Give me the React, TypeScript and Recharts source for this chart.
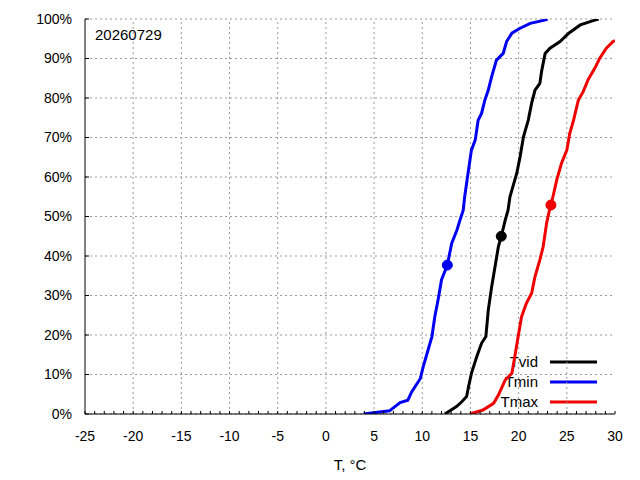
import React from 'react'
import {
  ComposedChart, Line, XAxis, YAxis, CartesianGrid, ReferenceLine, ReferenceDot,
} from 'recharts'

// cumulative share (%) of stations vs temperature
const TMIN = [
  { t: 3.9, p: 0 }, { t: 6.6, p: 0.8 }, { t: 7.7, p: 2.9 }, { t: 8.5, p: 3.5 },
  { t: 8.9, p: 5.6 }, { t: 9.8, p: 9 }, { t: 10.1, p: 12 }, { t: 10.6, p: 16.2 },
  { t: 11.0, p: 19.6 }, { t: 11.3, p: 24.6 }, { t: 11.7, p: 29.7 }, { t: 12.0, p: 34 },
  { t: 12.6, p: 37.7 }, { t: 13.05, p: 43.2 }, { t: 13.6, p: 46.6 }, { t: 13.9, p: 49 },
  { t: 14.25, p: 51.6 }, { t: 14.4, p: 55 }, { t: 14.8, p: 61.8 }, { t: 15.1, p: 66.8 },
  { t: 15.5, p: 69.4 }, { t: 15.8, p: 74.4 }, { t: 16.15, p: 76.1 }, { t: 16.5, p: 79.5 },
  { t: 16.85, p: 82 }, { t: 17.2, p: 85.4 }, { t: 17.7, p: 89.6 }, { t: 18.4, p: 91.3 },
  { t: 18.75, p: 94.3 }, { t: 19.3, p: 96.4 }, { t: 20.1, p: 97.6 }, { t: 21.2, p: 98.9 },
  { t: 22.7, p: 99.7 }, { t: 23.0, p: 100 },
]

const TVID = [
  { t: 12.35, p: 0 }, { t: 13.55, p: 1.9 }, { t: 14.1, p: 3.1 }, { t: 14.6, p: 4.4 },
  { t: 14.8, p: 6.9 }, { t: 15.1, p: 10.3 }, { t: 15.65, p: 14.5 }, { t: 16.15, p: 17.9 },
  { t: 16.6, p: 19.6 }, { t: 16.85, p: 26.3 }, { t: 17.2, p: 32.2 }, { t: 17.55, p: 37.3 },
  { t: 17.9, p: 42.4 }, { t: 18.2, p: 45 }, { t: 18.6, p: 49 }, { t: 18.9, p: 51.6 },
  { t: 19.1, p: 55 }, { t: 19.8, p: 60.9 }, { t: 20.15, p: 65.1 }, { t: 20.5, p: 70.2 },
  { t: 21.0, p: 74.4 }, { t: 21.35, p: 78.7 }, { t: 21.7, p: 82 }, { t: 22.2, p: 83.7 },
  { t: 22.4, p: 87 }, { t: 22.75, p: 91.3 }, { t: 23.25, p: 92.6 }, { t: 24.3, p: 94.3 },
  { t: 25.2, p: 96.4 }, { t: 26.4, p: 98.5 }, { t: 27.9, p: 99.7 }, { t: 28.3, p: 100 },
]

const TMAX = [
  { t: 14.95, p: 0 }, { t: 16.3, p: 1 }, { t: 17.4, p: 2.7 }, { t: 17.9, p: 4.8 },
  { t: 18.6, p: 8.6 }, { t: 19.3, p: 10.3 }, { t: 19.6, p: 14.5 }, { t: 19.95, p: 19.6 },
  { t: 20.3, p: 24.6 }, { t: 20.8, p: 28 }, { t: 21.35, p: 30.6 }, { t: 21.7, p: 34.8 },
  { t: 22.2, p: 39 }, { t: 22.55, p: 42.4 }, { t: 22.9, p: 48.3 }, { t: 23.2, p: 51.6 },
  { t: 23.4, p: 53.3 }, { t: 23.95, p: 59.2 }, { t: 24.45, p: 63.5 }, { t: 25.0, p: 66.8 },
  { t: 25.3, p: 71 }, { t: 25.7, p: 74.4 }, { t: 26.2, p: 79.5 }, { t: 26.7, p: 81.6 },
  { t: 27.2, p: 84.6 }, { t: 27.9, p: 87.5 }, { t: 28.4, p: 90 }, { t: 29.1, p: 92.6 },
  { t: 29.8, p: 94.3 }, { t: 30, p: 94.5 },
]

// today's values, marked with dots
const MARKERS = [
  { t: 18.2, p: 45, color: '#000000' },
  { t: 12.6, p: 37.7, color: '#0000f0' },
  { t: 23.35, p: 52.9, color: '#f00000' },
]

const SERIES = [
  { name: 'Tvid', data: TVID, color: '#000000' },
  { name: 'Tmin', data: TMIN, color: '#0000f0' },
  { name: 'Tmax', data: TMAX, color: '#f00000' },
]

const X_MAJOR = [-25, -20, -15, -10, -5, 0, 5, 10, 15, 20, 25, 30]
const X_GRID = [-20, -15, -10, -5, 0, 5, 10, 15, 20, 25]
const X_MINOR = [
  -25, -24, -23, -22, -21, -20, -19, -18, -17, -16, -15, -14, -13, -12, -11, -10,
  -9, -8, -7, -6, -5, -4, -3, -2, -1, 0, 1, 2, 3, 4, 5, 6, 7, 8, 9, 10, 11, 12,
  13, 14, 15, 16, 17, 18, 19, 20, 21, 22, 23, 24, 25, 26, 27, 28, 29, 30,
]
const Y_TICKS = [0, 10, 20, 30, 40, 50, 60, 70, 80, 90, 100]

const DATE_LABEL = '20260729'
const X_TITLE = 'T, °C'

const FONT = '"Liberation Sans", Arial, sans-serif'
const tickStyle = { fill: '#000', fontSize: 14, fontFamily: FONT }
const GRID_COLOR = '#9a9a9a'

export default function App() {
  return (
    <div style={{ position: 'absolute', left: 0, top: 0, width: 640, height: 480, background: '#fff' }}>
      {/* labels and key sit under the chart so the curves cross them */}
      <svg width={640} height={480} style={{ position: 'absolute', left: 0, top: 0 }}>
        <text x={95} y={40} fontSize={15} fontFamily={FONT}>{DATE_LABEL}</text>
        <text x={350} y={470} fontSize={15} fontFamily={FONT} textAnchor="middle">{X_TITLE}</text>
        {SERIES.map((s, i) => (
          <g key={s.name}>
            <text x={538} y={367 + i * 20} fontSize={15} fontFamily={FONT} textAnchor="end">{s.name}</text>
            <line x1={550} x2={597} y1={362 + i * 20} y2={362 + i * 20} stroke={s.color} strokeWidth={3} />
          </g>
        ))}
      </svg>
      <div style={{ position: 'absolute', left: 0, top: 0 }}>
        <ComposedChart width={640} height={480} margin={{ top: 19, right: 25, bottom: 36, left: 0 }}>
          <CartesianGrid vertical={false} stroke={GRID_COLOR} strokeDasharray="2 3" />
          {X_GRID.map((x) => (
            <ReferenceLine key={x} x={x} stroke={GRID_COLOR} strokeDasharray="2 3" />
          ))}
          <XAxis
            dataKey="t" type="number" domain={[-25, 30]} ticks={X_MINOR} interval={0}
            allowDataOverflow
            tickFormatter={(v: number) => (X_MAJOR.includes(v) ? String(v) : '')}
            tick={tickStyle} tickSize={-3} tickMargin={20} height={30}
            axisLine={{ stroke: '#000' }} tickLine={{ stroke: '#000' }}
          />
          <XAxis
            xAxisId="top" orientation="top" type="number" domain={[-25, 30]} ticks={X_MINOR}
            interval={0} allowDataOverflow tick={false} tickSize={-3} height={0}
            axisLine={{ stroke: '#000' }} tickLine={{ stroke: '#000' }}
          />
          <YAxis
            dataKey="p" type="number" domain={[0, 100]} ticks={Y_TICKS} interval={0}
            allowDataOverflow tickFormatter={(v: number) => `${v}%`}
            tick={tickStyle} tickSize={-4} tickMargin={17} width={85}
            axisLine={{ stroke: '#000' }} tickLine={{ stroke: '#000' }}
          />
          <YAxis
            yAxisId="right" orientation="right" type="number" domain={[0, 100]} ticks={Y_TICKS}
            interval={0} allowDataOverflow tick={false} tickSize={-4} width={0}
            axisLine={{ stroke: '#000' }} tickLine={{ stroke: '#000' }}
          />
          {SERIES.map((s) => (
            <Line
              key={s.name} data={s.data} dataKey="p" type="linear" stroke={s.color}
              strokeWidth={3} dot={false} isAnimationActive={false}
            />
          ))}
          {MARKERS.map((m) => (
            <ReferenceDot key={m.color} x={m.t} y={m.p} r={5} fill={m.color} stroke={m.color} />
          ))}
        </ComposedChart>
      </div>
    </div>
  )
}
